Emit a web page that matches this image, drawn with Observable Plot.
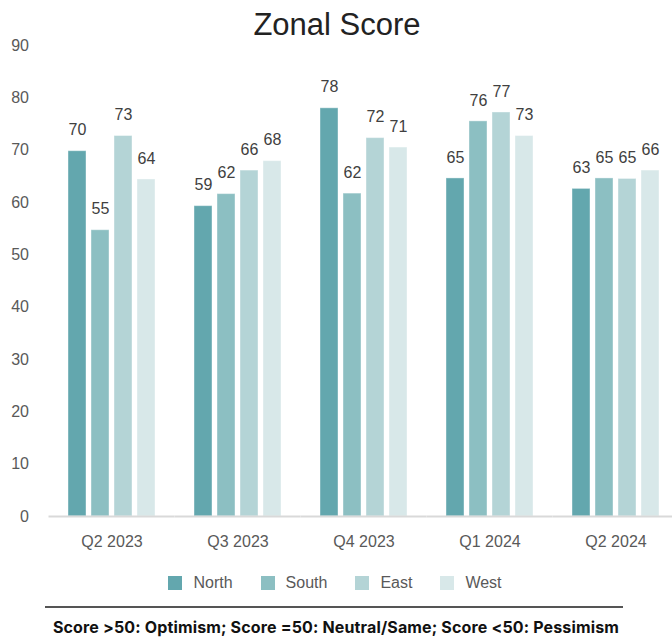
<!DOCTYPE html>
<html>
<head>
<meta charset="utf-8">
<script src="https://cdn.jsdelivr.net/npm/d3@7"></script>
<script src="https://cdn.jsdelivr.net/npm/@observablehq/plot@0.6"></script>
<style>
  html, body { margin: 0; padding: 0; background: #fff; }
  body { width: 672px; height: 637px; position: relative; overflow: hidden; font-family: "Liberation Sans", Arial, sans-serif; }
  #title { position: absolute; left: 0; width: 674px; top: 9px; text-align: center; font-size: 31px; line-height: 31px; color: #222; }
  #chart { position: absolute; left: 0; top: 0; }
  #legend { position: absolute; top: 574px; left: 0; width: 670px; display: flex; justify-content: center; font-size: 16px; color: #595959; }
  .item { display: flex; align-items: center; margin: 0 14px; }
  .sw { width: 14px; height: 14px; margin-right: 11px; }
  #rule { position: absolute; left: 45px; width: 578px; top: 606px; height: 2px; background: #555; }
  #foot { position: absolute; left: 0; width: 672px; top: 618px; text-align: center; font-family: Inter, "Liberation Sans", sans-serif; font-size: 16px; line-height: 18px; font-weight: bold; letter-spacing: 0.15px; color: #111; }
</style>
</head>
<body>
<div id="chart"></div>
<div id="title">Zonal Score</div>
<div id="legend"></div>
<div id="rule"></div>
<div id="foot">Score &gt;50: Optimism; Score =50: Neutral/Same; Score &lt;50: Pessimism</div>
<script>
const quarters = ["Q2 2023", "Q3 2023", "Q4 2023", "Q1 2024", "Q2 2024"];
const zones = ["North", "South", "East", "West"];
const north = [69.8, 59.3, 78.0, 64.6, 62.6];
const south = [54.7, 61.6, 61.7, 75.5, 64.6];
const east  = [72.7, 66.1, 72.3, 77.2, 64.5];
const west  = [64.4, 67.9, 70.5, 72.7, 66.1];
const yTicks = [0, 10, 20, 30, 40, 50, 60, 70, 80, 90];
const colors = ["#63a7ae", "#8cbfc2", "#b4d4d6", "#d8e8e9"];

const series = [north, south, east, west];
const data = [];
quarters.forEach((q, i) => {
  zones.forEach((z, j) => data.push({quarter: q, zone: z, value: series[j][i]}));
});

const chart = Plot.plot({
  width: 672,
  height: 560,
  marginTop: 45,
  marginBottom: 44,
  marginLeft: 48.5,
  marginRight: -6.5,
  style: {fontSize: "16px", fontFamily: "Liberation Sans, Arial, sans-serif", color: "#595959", background: "transparent", overflow: "visible"},
  fx: {domain: quarters, range: [48.5, 678.5], round: false, paddingInner: 0, paddingOuter: 0, label: null, tickSize: 0, tickPadding: 19},
  x: {domain: zones, round: false, paddingInner: 5 / 23, paddingOuter: 0.848, axis: null},
  y: {domain: [0, 90], ticks: yTicks, tickSize: 0, tickPadding: 20, label: null},
  color: {domain: zones, range: colors},
  marks: [
    Plot.barY(data, {fx: "quarter", x: "zone", y: "value", fill: "zone", stroke: "#ffffff", strokeOpacity: 0.4, strokeWidth: 1}),
    Plot.ruleY([0], {stroke: "#d9d9d9", strokeWidth: 2}),
    Plot.text(data, {fx: "quarter", x: "zone", y: "value", text: d => String(Math.round(d.value)), dy: -21, fill: "#404040", fontSize: 16})
  ]
});
document.getElementById("chart").appendChild(chart);

const legend = document.getElementById("legend");
zones.forEach((z, i) => {
  const item = document.createElement("div");
  item.className = "item";
  const sw = document.createElement("span");
  sw.className = "sw";
  sw.style.background = colors[i];
  const t = document.createElement("span");
  t.textContent = z;
  item.appendChild(sw);
  item.appendChild(t);
  legend.appendChild(item);
});
</script>
</body>
</html>
